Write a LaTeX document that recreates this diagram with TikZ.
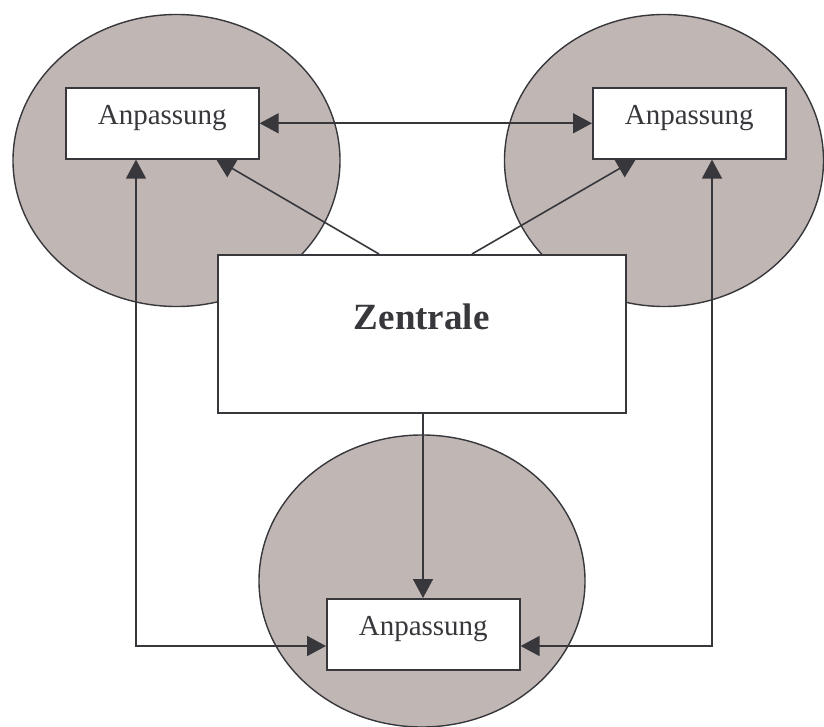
\documentclass[tikz,border=0pt]{standalone}
\usepackage{fontspec}
\setmainfont{Liberation Serif}
\usetikzlibrary{arrows.meta,shapes.geometric}
\definecolor{zone}{RGB}{192,183,181}
\definecolor{ink}{RGB}{55,55,60}
\begin{document}
\begin{tikzpicture}[x=1pt,y=-1pt,
  zoneshape/.style={ellipse,draw=ink,fill=zone,line width=1.4pt,inner sep=0pt,
    minimum width=#1,minimum height=292pt},
  adapt/.style={draw=ink,fill=white,line width=1.6pt,inner sep=0pt,
    minimum width=193pt,text height=37pt,text depth=34pt,
    font=\fontsize{29}{31}\selectfont,text=ink},
  hub/.style={draw=ink,fill=white,line width=1.6pt,inner sep=0pt,
    minimum width=408pt,text height=75pt,text depth=83pt,
    font=\fontsize{37}{40}\selectfont\bfseries,text=ink},
  link/.style={draw=ink,line width=1.6pt,
    -{Triangle[length=19pt,width=20pt]}},
  dlink/.style={link,{Triangle[length=19pt,width=20pt]}-{Triangle[length=19pt,width=20pt]}}]
\useasboundingbox (0,0) rectangle (824,727);

% shaded zones
\node[zoneshape=327pt] (z1) at (176.5,160.5) {};
\node[zoneshape=319pt] (z2) at (664,160.5) {};
\node[zoneshape=326pt] (z3) at (422,581) {};

% boxes
\node[adapt,anchor=north west] (a1) at (65,87) {Anpassung};
\node[adapt,anchor=north west] (a2) at (592,87) {Anpassung};
\node[adapt,anchor=north west] (a3) at (326,598) {Anpassung};
\node[hub,anchor=north west] (c) at (217,254) {Zentrale};

% connectors
\coordinate (cl) at (379,254);
\coordinate (cr) at (472,254);
\coordinate (cb) at (423,412);
\draw[link] (cl) -- (216,159);
\draw[link] (cr) -- (636,159);
\draw[dlink] (a1.east) -- (a2.west);
\draw[link] (cb) -- (cb |- a3.north);
\coordinate (lc) at (136,646);
\coordinate (rc) at (712,646);
\draw[dlink] (lc |- a1.south) -- (lc) -- (a3.west |- lc);
\draw[dlink] (rc |- a2.south) -- (rc) -- (a3.east |- rc);
\end{tikzpicture}
\end{document}
